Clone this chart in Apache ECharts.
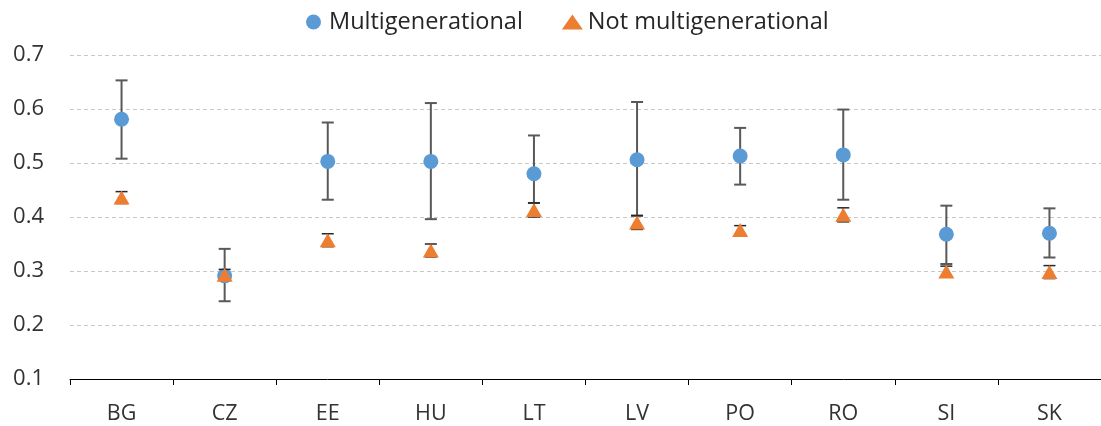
<!DOCTYPE html>
<html>
<head>
<meta charset="utf-8">
<script src="https://cdn.jsdelivr.net/npm/echarts@6/dist/echarts.min.js"></script>
<style>
  html, body { margin: 0; padding: 0; background: #fff; }
  #chart { width: 1101px; height: 426px; }
</style>
</head>
<body>
<div id="chart"></div>
<script>
// Countries on the category axis
const categories = ['BG', 'CZ', 'EE', 'HU', 'LT', 'LV', 'PO', 'RO', 'SI', 'SK'];

// Multigenerational households: mean and confidence interval
const multiMean = [0.581, 0.291, 0.503, 0.503, 0.480, 0.506, 0.513, 0.515, 0.368, 0.370];
const multiLow  = [0.508, 0.244, 0.432, 0.396, 0.426, 0.402, 0.460, 0.432, 0.313, 0.325];
const multiHigh = [0.653, 0.341, 0.575, 0.611, 0.551, 0.613, 0.565, 0.599, 0.421, 0.416];

// Not multigenerational households: mean and confidence interval
const notMean = [0.436, 0.293, 0.357, 0.338, 0.413, 0.390, 0.376, 0.404, 0.299, 0.298];
const notLow  = [0.425, 0.283, 0.345, 0.326, 0.400, 0.377, 0.368, 0.391, 0.289, 0.286];
const notHigh = [0.447, 0.303, 0.369, 0.350, 0.426, 0.403, 0.384, 0.417, 0.309, 0.310];

// Y axis ticks
const yTicks = { min: 0.1, max: 0.7, interval: 0.1 };

const FONT = 'Open Sans';
const BLUE = '#5B9BD5';
const ORANGE = '#ED7D31';

// Vertical whisker with a cap at each end
function errorBarRenderer(capHalf, color, width) {
  return function (params, api) {
    const x = api.value(0);
    const top = api.coord([x, api.value(2)]);
    const bot = api.coord([x, api.value(1)]);
    const style = { stroke: color, lineWidth: width };
    return {
      type: 'group',
      children: [
        { type: 'line', shape: { x1: top[0], y1: top[1], x2: bot[0], y2: bot[1] }, style },
        { type: 'line', shape: { x1: top[0] - capHalf, y1: top[1], x2: top[0] + capHalf, y2: top[1] }, style },
        { type: 'line', shape: { x1: bot[0] - capHalf, y1: bot[1], x2: bot[0] + capHalf, y2: bot[1] }, style }
      ]
    };
  };
}

const chart = echarts.init(document.getElementById('chart'), null, { renderer: 'canvas' });

chart.setOption({
  animation: false,
  textStyle: { fontFamily: FONT },
  legend: {
    top: 10,
    left: 306,
    padding: 0,
    itemGap: 39,
    itemWidth: 21,
    itemHeight: 15,
    textStyle: { fontFamily: FONT, fontSize: 23.5, color: '#262626' },
    data: [
      { name: 'Multigenerational', icon: 'circle' },
      { name: 'Not multigenerational', icon: 'triangle' }
    ]
  },
  grid: { left: 70, top: 55, width: 1040, height: 324, containLabel: false },
  xAxis: {
    type: 'category',
    data: categories,
    boundaryGap: true,
    axisLine: { lineStyle: { color: '#000', width: 1 } },
    axisTick: { show: true, interval: 0, length: 6, lineStyle: { color: '#000' } },
    axisLabel: { fontFamily: FONT, fontSize: 21.5, color: '#333', margin: 24 },
    splitLine: { show: false }
  },
  yAxis: {
    type: 'value',
    min: yTicks.min,
    max: yTicks.max,
    interval: yTicks.interval,
    axisLine: { show: false },
    axisTick: { show: false },
    axisLabel: {
      fontFamily: FONT, fontSize: 22, color: '#333', margin: 26,
      formatter: v => v.toFixed(1)
    },
    splitLine: { lineStyle: { color: '#c8c8c8', type: [4, 3], width: 1 } }
  },
  series: [
    {
      name: 'multiErr',
      type: 'custom',
      z: 2,
      renderItem: errorBarRenderer(6, '#595959', 2),
      data: categories.map((c, i) => [i, multiLow[i], multiHigh[i]])
    },
    {
      name: 'Multigenerational',
      type: 'scatter',
      z: 3,
      symbol: 'circle',
      symbolSize: 15,
      itemStyle: { color: BLUE, opacity: 1 },
      data: multiMean.map((v, i) => [i, v])
    },
    {
      name: 'notErr',
      type: 'custom',
      z: 4,
      renderItem: errorBarRenderer(6, '#262626', 1.5),
      data: categories.map((c, i) => [i, notLow[i], notHigh[i]])
    },
    {
      name: 'Not multigenerational',
      type: 'scatter',
      z: 5,
      symbol: 'triangle',
      symbolSize: [16, 14],
      itemStyle: { color: ORANGE, opacity: 1 },
      data: notMean.map((v, i) => [i, v])
    }
  ]
});
</script>
</body>
</html>
